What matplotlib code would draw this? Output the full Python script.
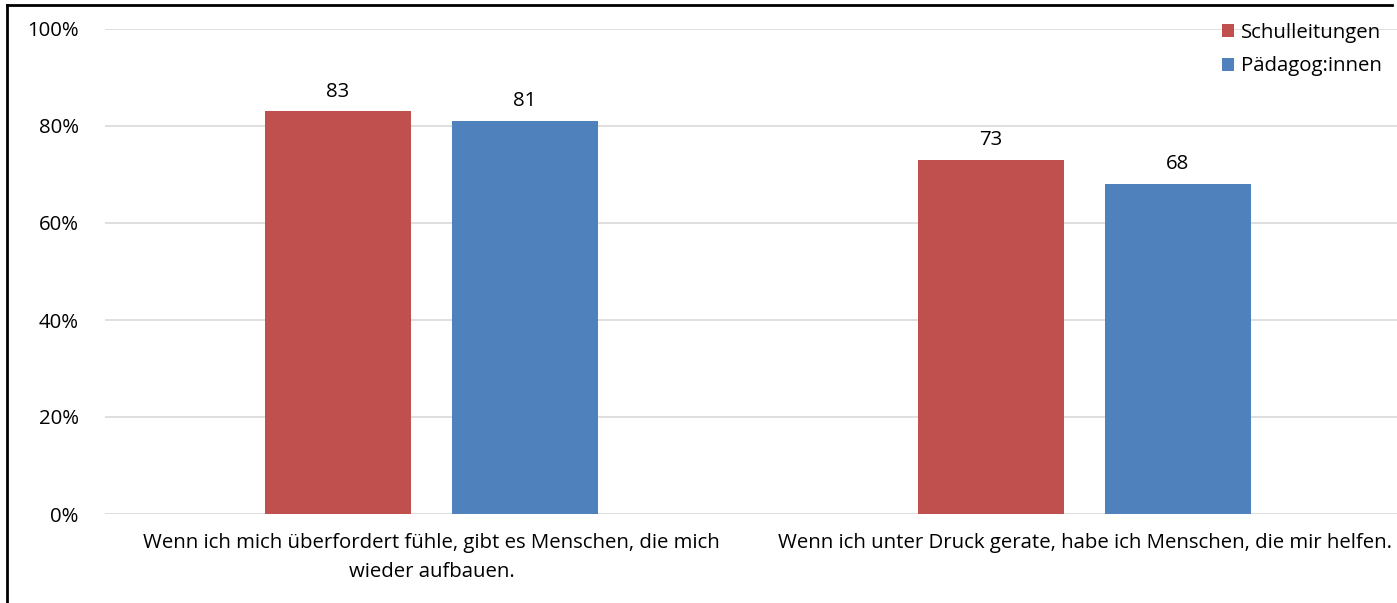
import numpy as np
import matplotlib.pyplot as plt
from matplotlib.lines import Line2D

plt.rcParams['font.family'] = ['Open Sans', 'DejaVu Sans']

categories = ['Wenn ich mich überfordert fühle, gibt es Menschen, die mich\nwieder aufbauen.',
              'Wenn ich unter Druck gerate, habe ich Menschen, die mir helfen.']
series = ['Schulleitungen', 'Pädagog:innen']
schulleitungen = [83, 73]
paedagogen = [81, 68]
colors = ['#C0504D', '#4F81BD']

W, H = 1397, 603
fig = plt.figure(figsize=(W / 100, H / 100), dpi=100)
ax = fig.add_axes([105 / W, (H - 514) / H, 1306 / W, 485 / H])

fs = 14.7
x = np.arange(len(categories))
bw = 0.224
off = 0.143
b1 = ax.bar(x - off, schulleitungen, bw, color=colors[0], label=series[0], zorder=3)
b2 = ax.bar(x + off, paedagogen, bw, color=colors[1], label=series[1], zorder=3)
for bars in (b1, b2):
    for r in bars:
        ax.text(r.get_x() + r.get_width() / 2, r.get_height() + 2.0, '%d' % r.get_height(),
                ha='center', va='bottom', fontsize=fs, color='#000000')

ax.set_xlim(-0.5, 1.5)
ax.set_ylim(0, 100)
ax.set_yticks(range(0, 101, 20))
ax.set_yticklabels(['%d%%' % v for v in range(0, 101, 20)], fontsize=fs)
ax.set_xticks(x)
ax.set_xticklabels(categories, fontsize=fs, linespacing=1.55)
ax.tick_params(length=0)
ax.tick_params(axis='y', pad=19)
ax.tick_params(axis='x', pad=14)
ax.grid(axis='y', color='#D9D9D9', linewidth=1.2, zorder=0)
for s in ax.spines.values():
    s.set_visible(False)

fig.legend(handles=[b1, b2], labels=series, loc='upper right',
           bbox_to_anchor=(1390 / W, 1 - 15 / H), frameon=False,
           fontsize=fs, handlelength=0.6, handleheight=0.6,
           handletextpad=0.35, labelspacing=0.65, borderaxespad=0)

# outer frame (top and left edges visible)
fig.add_artist(Line2D([7 / W, 1392 / W], [1 - 5 / H, 1 - 5 / H], color='black', lw=2,
                      transform=fig.transFigure))
fig.add_artist(Line2D([7 / W, 7 / W], [1 - 5 / H, 0], color='black', lw=2,
                      transform=fig.transFigure))

fig.savefig('out.png', dpi=100)
